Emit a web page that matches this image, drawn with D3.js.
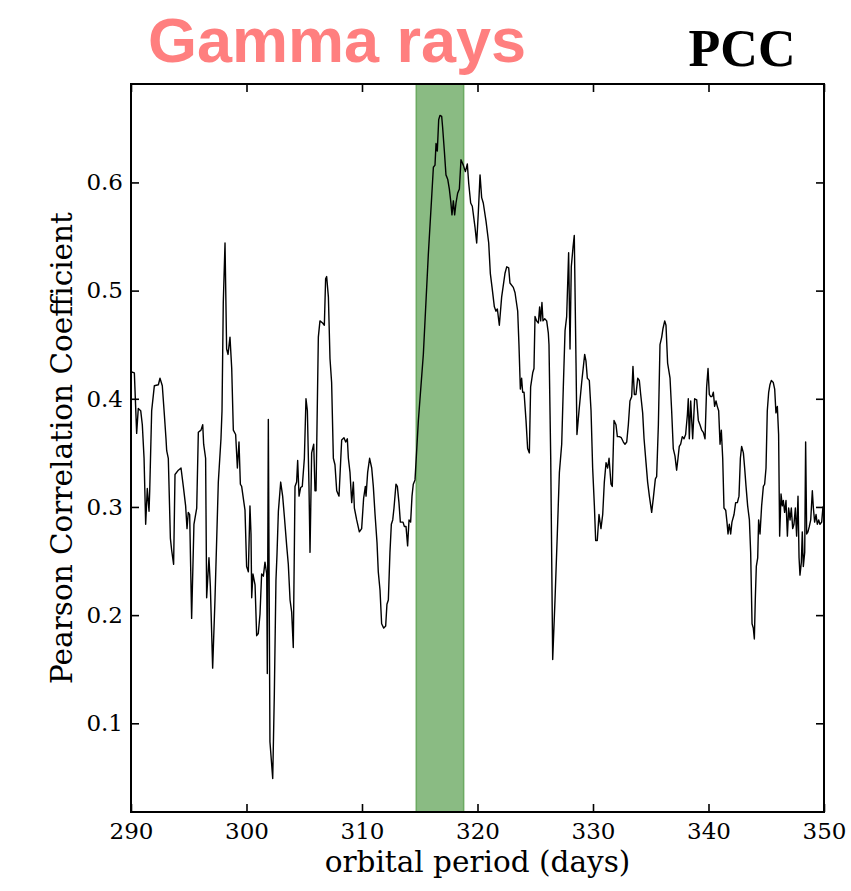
<!DOCTYPE html>
<html>
<head>
<meta charset="utf-8">
<script src="https://cdn.jsdelivr.net/npm/d3@7"></script>
<style>
  html, body { margin: 0; padding: 0; background: #fff; }
  svg { display: block; }
</style>
</head>
<body>
<svg id="chart" width="851" height="891"></svg>
<script>
// ---- data ----
const days = [
290.00,290.29,290.49,290.63,290.84,290.98,291.13,291.27,291.41,291.56,291.62,291.79,292.02,292.37,292.51,292.71,292.89,293.03,293.09,293.23,
293.41,293.52,293.69,293.81,294.10,294.33,294.53,294.73,294.85,294.96,295.08,295.25,295.45,295.69,295.83,296.06,296.21,296.29,296.46,296.55,
296.75,296.87,297.07,297.27,297.56,297.79,297.88,297.99,298.14,298.28,298.40,298.57,298.72,298.86,299.06,299.21,299.35,299.47,299.58,299.87,
300.01,300.16,300.30,300.39,300.45,300.56,300.74,300.88,301.02,301.17,301.31,301.46,301.60,301.75,301.80,301.89,302.03,302.27,302.41,302.55,
302.64,302.76,302.96,303.13,303.28,303.48,303.62,303.77,303.91,304.05,304.20,304.34,304.43,304.55,304.69,304.83,305.01,305.15,305.27,305.41,
305.50,305.64,305.82,305.93,306.02,306.22,306.36,306.59,306.74,306.85,306.94,307.09,307.23,307.37,307.52,307.66,307.81,308.01,308.24,308.44,
308.59,308.73,308.82,308.96,309.11,309.25,309.34,309.54,309.77,309.97,310.14,310.29,310.35,310.49,310.66,310.84,310.98,311.13,311.30,311.41,
311.56,311.70,311.88,312.05,312.16,312.28,312.42,312.54,312.66,312.77,312.94,313.06,313.20,313.32,313.55,313.67,313.81,313.95,314.07,314.21,
314.33,314.44,314.59,314.88,315.31,315.74,316.03,316.18,316.32,316.41,316.52,316.64,316.75,316.90,316.98,317.13,317.27,317.42,317.56,317.68,
317.79,317.91,318.02,318.14,318.28,318.43,318.57,318.77,318.95,319.12,319.24,319.41,319.55,319.78,319.93,320.07,320.22,320.36,320.50,320.74,
320.97,321.11,321.26,321.46,321.60,321.72,321.89,322.09,322.38,322.53,322.70,322.81,323.10,323.25,323.33,323.48,323.59,323.71,323.82,323.91,
324.03,324.20,324.34,324.49,324.60,324.78,324.89,324.98,325.12,325.27,325.38,325.47,325.58,325.67,325.82,325.99,326.13,326.19,326.34,326.51,
326.71,326.91,327.09,327.29,327.43,327.58,327.72,327.89,328.01,328.12,328.27,328.38,328.53,328.61,328.79,329.02,329.28,329.39,329.51,329.68,
329.83,329.97,330.12,330.23,330.37,330.52,330.69,330.84,330.98,331.13,331.27,331.39,331.56,331.67,331.82,331.99,332.11,332.28,332.45,332.63,
332.77,332.92,333.06,333.20,333.35,333.46,333.58,333.72,333.87,334.01,334.13,334.30,334.42,334.59,334.73,334.88,335.08,335.22,335.40,335.51,
335.66,335.80,335.95,336.06,336.21,336.32,336.46,336.67,336.81,336.95,337.10,337.24,337.36,337.47,337.59,337.73,337.88,338.02,338.17,338.25,
338.34,338.46,338.63,338.80,338.98,339.12,339.26,339.41,339.55,339.70,339.84,339.96,340.07,340.19,340.30,340.42,340.53,340.65,340.76,340.88,
341.00,341.11,341.23,341.34,341.49,341.60,341.69,341.80,341.92,342.03,342.21,342.35,342.50,342.64,342.76,342.87,343.02,343.13,343.25,343.39,
343.54,343.65,343.77,343.88,343.97,344.05,344.14,344.26,344.34,344.46,344.60,344.75,344.86,344.98,345.09,345.21,345.32,345.44,345.61,345.73,
345.84,345.96,346.07,346.16,346.28,346.39,346.48,346.59,346.71,346.83,346.94,347.06,347.17,347.29,347.40,347.52,347.63,347.75,347.84,347.92,
348.04,348.12,348.21,348.33,348.41,348.50,348.61,348.73,348.85,348.99,349.08,349.19,349.31,349.42,349.54,349.65,349.80,349.91,350.00
];
const pcc = [
0.425,0.424,0.368,0.391,0.389,0.376,0.345,0.284,0.317,0.296,0.315,0.389,0.412,0.413,0.419,0.412,0.385,0.363,0.352,0.345,
0.271,0.260,0.247,0.330,0.334,0.336,0.319,0.301,0.280,0.295,0.293,0.197,0.284,0.299,0.369,0.371,0.376,0.358,0.345,0.216,
0.253,0.227,0.151,0.214,0.323,0.363,0.389,0.489,0.544,0.446,0.441,0.457,0.428,0.371,0.367,0.336,0.360,0.321,0.319,0.297,
0.245,0.240,0.301,0.275,0.216,0.238,0.228,0.181,0.183,0.201,0.238,0.236,0.249,0.238,0.146,0.381,0.083,0.049,0.127,0.232,
0.256,0.296,0.323,0.310,0.291,0.264,0.247,0.214,0.203,0.170,0.319,0.323,0.343,0.310,0.318,0.319,0.345,0.400,0.389,0.319,
0.258,0.350,0.358,0.315,0.315,0.457,0.472,0.470,0.468,0.511,0.513,0.494,0.437,0.415,0.345,0.339,0.315,0.310,0.362,0.364,
0.360,0.363,0.345,0.332,0.304,0.323,0.299,0.288,0.277,0.280,0.308,0.319,0.310,0.332,0.345,0.336,0.319,0.293,0.267,0.240,
0.223,0.192,0.188,0.190,0.210,0.214,0.258,0.284,0.288,0.299,0.321,0.319,0.304,0.286,0.286,0.282,0.282,0.264,0.288,0.286,
0.310,0.321,0.325,0.380,0.441,0.533,0.586,0.614,0.616,0.636,0.629,0.658,0.662,0.661,0.651,0.629,0.607,0.603,0.594,0.583,
0.570,0.583,0.570,0.581,0.590,0.594,0.621,0.616,0.610,0.617,0.599,0.581,0.578,0.559,0.544,0.572,0.607,0.586,0.581,0.564,
0.544,0.516,0.503,0.485,0.481,0.483,0.468,0.494,0.516,0.522,0.521,0.507,0.503,0.498,0.492,0.481,0.450,0.409,0.419,0.406,
0.406,0.380,0.354,0.350,0.411,0.424,0.428,0.476,0.472,0.470,0.485,0.472,0.489,0.472,0.474,0.472,0.461,0.450,0.345,0.159,
0.214,0.275,0.332,0.358,0.411,0.463,0.476,0.535,0.446,0.522,0.540,0.551,0.433,0.367,0.389,0.415,0.441,0.435,0.419,0.417,
0.389,0.336,0.301,0.269,0.269,0.293,0.280,0.293,0.323,0.341,0.336,0.345,0.321,0.319,0.380,0.376,0.365,0.365,0.364,0.360,
0.358,0.360,0.376,0.398,0.402,0.430,0.404,0.404,0.419,0.417,0.404,0.387,0.363,0.341,0.323,0.310,0.295,0.308,0.326,0.328,
0.376,0.450,0.457,0.465,0.472,0.468,0.433,0.419,0.389,0.354,0.347,0.334,0.345,0.356,0.358,0.365,0.363,0.367,0.385,0.400,
0.363,0.398,0.363,0.400,0.399,0.380,0.376,0.371,0.369,0.363,0.411,0.428,0.404,0.402,0.402,0.406,0.393,0.398,0.393,0.389,
0.358,0.371,0.345,0.299,0.297,0.286,0.275,0.284,0.275,0.286,0.293,0.304,0.304,0.310,0.345,0.356,0.350,0.336,0.319,0.301,
0.288,0.258,0.192,0.188,0.178,0.214,0.245,0.253,0.288,0.275,0.301,0.319,0.321,0.336,0.389,0.406,0.413,0.417,0.415,0.409,
0.387,0.393,0.367,0.273,0.312,0.301,0.306,0.295,0.306,0.273,0.299,0.288,0.299,0.280,0.284,0.299,0.273,0.310,0.253,0.237,
0.249,0.277,0.245,0.258,0.360,0.275,0.277,0.282,0.288,0.315,0.299,0.286,0.293,0.284,0.288,0.284,0.286,0.300,0.300
];
const band = [314.7, 318.8];
const xTicks = [290, 300, 310, 320, 330, 340, 350];
const yTicks = [0.1, 0.2, 0.3, 0.4, 0.5, 0.6];
const titleText = "Gamma rays";
const cornerText = "PCC";
const xLabel = "orbital period (days)";
const yLabel = "Pearson Correlation Coefficient";

// ---- layout ----
const L = 131, R = 824, T = 84, B = 812;
const svg = d3.select("#chart");
const x = d3.scaleLinear().domain([290, 350]).range([L, R]);
const y = d3.scaleLinear().domain([0.018, 0.691]).range([B, T]);

// band
svg.append("rect")
  .attr("x", x(band[0])).attr("y", T)
  .attr("width", x(band[1]) - x(band[0])).attr("height", B - T)
  .attr("fill", "rgb(138,187,131)")
  .attr("stroke", "rgb(108,170,98)").attr("stroke-width", 1.5);

// line
const pts = days.map((d, i) => [d, pcc[i]]);
svg.append("path")
  .datum(pts)
  .attr("fill", "none")
  .attr("stroke", "#000")
  .attr("stroke-width", 1.4)
  .attr("stroke-linejoin", "round")
  .attr("d", d3.line().x(d => x(d[0])).y(d => y(d[1])));

// axes
const fontTick = "'DejaVu Serif', serif";
function styleAxis(g, showLabels) {
  g.select(".domain").remove();
  g.selectAll(".tick line").attr("stroke", "#000").attr("stroke-width", 1.6);
  g.selectAll(".tick text").attr("fill", "#000")
    .style("font-family", fontTick).style("font-size", "23px");
  if (!showLabels) g.selectAll(".tick text").remove();
}
svg.append("g").attr("transform", `translate(0,${B})`)
  .call(d3.axisBottom(x).tickValues(xTicks).tickFormat(d3.format("d")).tickSize(-8).tickPadding(11))
  .call(g => styleAxis(g, true));
svg.append("g").attr("transform", `translate(0,${T})`)
  .call(d3.axisTop(x).tickValues(xTicks).tickSize(-8))
  .call(g => styleAxis(g, false));
svg.append("g").attr("transform", `translate(${L},0)`)
  .call(d3.axisLeft(y).tickValues(yTicks).tickFormat(d3.format(".1f")).tickSize(-8).tickPadding(8))
  .call(g => styleAxis(g, true));
svg.append("g").attr("transform", `translate(${R},0)`)
  .call(d3.axisRight(y).tickValues(yTicks).tickSize(-8))
  .call(g => styleAxis(g, false));

// frame
svg.append("rect")
  .attr("x", L).attr("y", T).attr("width", R - L).attr("height", B - T)
  .attr("fill", "none").attr("stroke", "#000").attr("stroke-width", 2);

// axis labels
svg.append("text")
  .attr("x", (L + R) / 2).attr("y", 872)
  .attr("text-anchor", "middle")
  .style("font-family", fontTick).style("font-size", "29.5px")
  .text(xLabel);
svg.append("text")
  .attr("transform", `translate(72,${(T + B) / 2}) rotate(-90)`)
  .attr("text-anchor", "middle")
  .style("font-family", fontTick).style("font-size", "29.5px")
  .text(yLabel);

// titles
svg.append("text")
  .attr("x", 337).attr("y", 62)
  .attr("text-anchor", "middle")
  .style("font-family", "'Liberation Sans', Arial, sans-serif")
  .style("font-weight", "bold").style("font-size", "63px")
  .attr("fill", "#ff7f7f")
  .text(titleText);
svg.append("text")
  .attr("x", 742).attr("y", 66)
  .attr("text-anchor", "middle")
  .style("font-family", "'Liberation Serif', 'Times New Roman', serif")
  .style("font-weight", "bold").style("font-size", "52px")
  .attr("fill", "#000")
  .text(cornerText);
</script>
</body>
</html>
